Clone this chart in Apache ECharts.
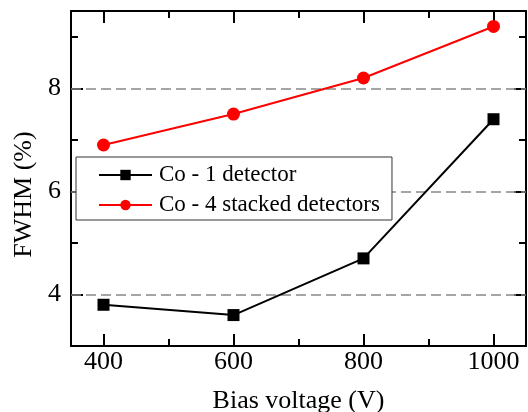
<!DOCTYPE html>
<html>
<head>
<meta charset="utf-8">
<script src="https://cdn.jsdelivr.net/npm/echarts@6/dist/echarts.min.js"></script>
<style>html,body{margin:0;padding:0;background:#fff}#c{width:528px;height:412px}</style>
</head>
<body>
<div id="c"></div>
<script>
var biasVoltage = [400, 600, 800, 1000];
var fwhmOneDetector = [3.8, 3.6, 4.7, 7.4];
var fwhmFourStacked = [6.9, 7.5, 8.2, 9.2];
var seriesNames = ['Co - 1 detector', 'Co - 4 stacked detectors'];
var xTickLabels = [400, 600, 800, 1000];
var xMinorTicks = [500, 700, 900];
var yTickLabels = [4, 6, 8];
var yMinorTicks = [5, 7, 9];

var FONT = 'Liberation Serif';
function pairs(xs, ys) { return xs.map(function (x, i) { return [x, ys[i]]; }); }

var chart = echarts.init(document.getElementById('c'), null, { renderer: 'canvas' });
var axisLine = { show: true, lineStyle: { color: '#000', width: 2 } };
function majorTick(vals) { return { show: true, inside: true, length: 12, customValues: vals, lineStyle: { color: '#000', width: 2 } }; }
function minorTick(vals) { return { show: true, inside: true, length: 7, customValues: vals, lineStyle: { color: '#000', width: 2 } }; }
function plain(v) { return String(v); }

var xBase = { type: 'value', min: 350, max: 1050, gridIndex: 0, splitLine: { show: false } };
var yBase = { type: 'value', min: 3, max: 9.5, gridIndex: 0, splitLine: { show: false } };

chart.setOption({
  animation: false,
  backgroundColor: '#fff',
  grid: { left: 71, right: 2, top: 11, bottom: 66, containLabel: false, outerBoundsMode: 'none' },
  legend: {
    orient: 'vertical',
    left: 76, top: 157,
    padding: [6, 12, 3, 22],
    backgroundColor: '#fff',
    borderColor: '#333', borderWidth: 1,
    itemWidth: 53, itemHeight: 13, itemGap: 6,
    textStyle: { fontFamily: FONT, fontSize: 23, color: '#000', lineHeight: 24, padding: [0, 0, 0, 2] },
    data: seriesNames
  },
  xAxis: [
    Object.assign({}, xBase, {
      position: 'bottom',
      axisLine: axisLine, axisTick: majorTick(xTickLabels),
      axisLabel: { fontFamily: FONT, fontSize: 26, color: '#000', margin: 3, customValues: xTickLabels, formatter: plain },
      name: 'Bias voltage (V)', nameLocation: 'middle', nameGap: 42,
      nameTextStyle: { fontFamily: FONT, fontSize: 26, color: '#000' }
    }),
    Object.assign({}, xBase, {
      position: 'bottom',
      axisLine: { show: false }, axisTick: minorTick(xMinorTicks),
      axisLabel: { show: false }
    }),
    Object.assign({}, xBase, {
      position: 'top',
      axisLine: axisLine, axisTick: majorTick(xTickLabels),
      axisLabel: { show: false }
    }),
    Object.assign({}, xBase, {
      position: 'top',
      axisLine: { show: false }, axisTick: minorTick(xMinorTicks),
      axisLabel: { show: false }
    })
  ],
  yAxis: [
    Object.assign({}, yBase, {
      position: 'left',
      axisLine: axisLine, axisTick: majorTick(yTickLabels),
      axisLabel: { fontFamily: FONT, fontSize: 26, color: '#000', margin: 10, customValues: yTickLabels, formatter: plain },
      name: 'FWHM (%)', nameLocation: 'middle', nameGap: 31,
      nameTextStyle: { fontFamily: FONT, fontSize: 26, color: '#000', padding: [0, 32, 0, 0] }
    }),
    Object.assign({}, yBase, {
      position: 'left',
      axisLine: { show: false }, axisTick: minorTick(yMinorTicks),
      axisLabel: { show: false }
    }),
    Object.assign({}, yBase, {
      position: 'right',
      axisLine: axisLine, axisTick: majorTick(yTickLabels),
      axisLabel: { show: false }
    }),
    Object.assign({}, yBase, {
      position: 'right',
      axisLine: { show: false }, axisTick: minorTick(yMinorTicks),
      axisLabel: { show: false }
    })
  ],
  series: [
    {
      name: seriesNames[0], type: 'line', xAxisIndex: 0, yAxisIndex: 0,
      data: pairs(biasVoltage, fwhmOneDetector),
      symbol: 'rect', symbolSize: 12,
      lineStyle: { color: '#000', width: 2 },
      itemStyle: { color: '#000' }, z: 3,
      markLine: {
        silent: true, symbol: ['none', 'none'], z: 1,
        label: { show: false },
        lineStyle: { color: '#888', width: 1.5, type: [10, 5] },
        emphasis: { disabled: true },
        data: yTickLabels.map(function (v) { return { yAxis: v }; })
      }
    },
    {
      name: seriesNames[1], type: 'line', xAxisIndex: 0, yAxisIndex: 0,
      data: pairs(biasVoltage, fwhmFourStacked),
      symbol: 'circle', symbolSize: 13,
      lineStyle: { color: '#ff0000', width: 2 },
      itemStyle: { color: '#ff0000' }, z: 3
    }
  ]
});
</script>
</body>
</html>
